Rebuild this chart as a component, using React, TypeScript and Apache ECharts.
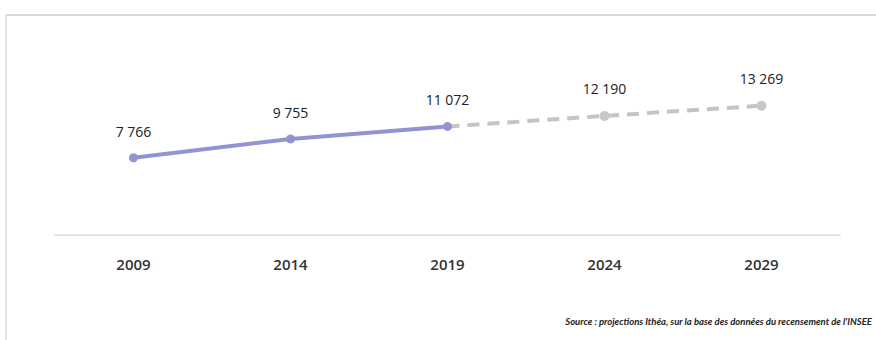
import React, { useEffect, useRef } from "react";
import * as echarts from "echarts";

const years = ["2009", "2014", "2019", "2024", "2029"];
const observed = [7766, 9755, 11072, null, null];
const projected = [null, null, 11072, 12190, 13269];
const sourceText = "Source : projections Ithéa, sur la base des données du recensement de l'INSEE";

const fmt = (v: number) => String(v).replace(/\B(?=(\d{3})+(?!\d))/g, " ");

export default function App() {
  const ref = useRef<HTMLDivElement>(null);
  useEffect(() => {
    document.body.style.margin = "0";
    const chart = echarts.init(ref.current!, null, { renderer: "svg" });
    const labelStyle = {
      show: true,
      position: "top" as const,
      distance: 15,
      fontSize: 14,
      color: "#222",
      fontFamily: "Open Sans, sans-serif",
      formatter: (p: any) => fmt(p.value),
    };
    chart.setOption({
      animation: false,
      backgroundColor: "#fff",
      grid: { left: 55, right: 36, top: 42, height: 193 },
      xAxis: {
        type: "category",
        data: years,
        boundaryGap: true,
        axisLine: { onZero: false, lineStyle: { color: "#e4e4e4", width: 2 } },
        axisTick: { show: false },
        axisLabel: {
          margin: 21,
          fontSize: 15,
          color: "#333",
          fontFamily: "Open Sans, sans-serif",
          fontWeight: 600,
        },
      },
      yAxis: { type: "value", min: -400, max: 20000, show: false, splitLine: { show: false } },
      series: [
        {
          type: "line",
          data: observed,
          symbol: "circle",
          symbolSize: 9,
          lineStyle: { color: "#9393d2", width: 4 },
          itemStyle: { color: "#9393d2" },
          label: labelStyle,
          z: 3,
        },
        {
          type: "line",
          data: projected.map((v, i) =>
            v === null
              ? null
              : i === 2
              ? { value: v, symbolSize: 0, label: { show: false } }
              : { value: v }
          ),
          symbol: "circle",
          symbolSize: 10,
          lineStyle: { color: "#c4c4c4", width: 4, type: [12, 8] },
          itemStyle: { color: "#c8c8c8" },
          label: labelStyle,
          z: 2,
        },
      ],
      graphic: [
        { type: "line", shape: { x1: 6, y1: 15, x2: 876, y2: 15 }, style: { stroke: "#d8d8d8", lineWidth: 2 } },
        { type: "line", shape: { x1: 6, y1: 15, x2: 6, y2: 340 }, style: { stroke: "#dcdcdc", lineWidth: 1.5 } },
        {
          type: "text",
          right: 4,
          top: 316,
          style: {
            text: sourceText,
            fontSize: 9.5,
            fontStyle: "italic",
            fontWeight: "bold",
            fill: "#222",
            fontFamily: "Lato, sans-serif",
          },
        },
      ],
    });
    return () => chart.dispose();
  }, []);
  return <div ref={ref} style={{ position: "fixed", left: 0, top: 0, width: 876, height: 340 }} />;
}
